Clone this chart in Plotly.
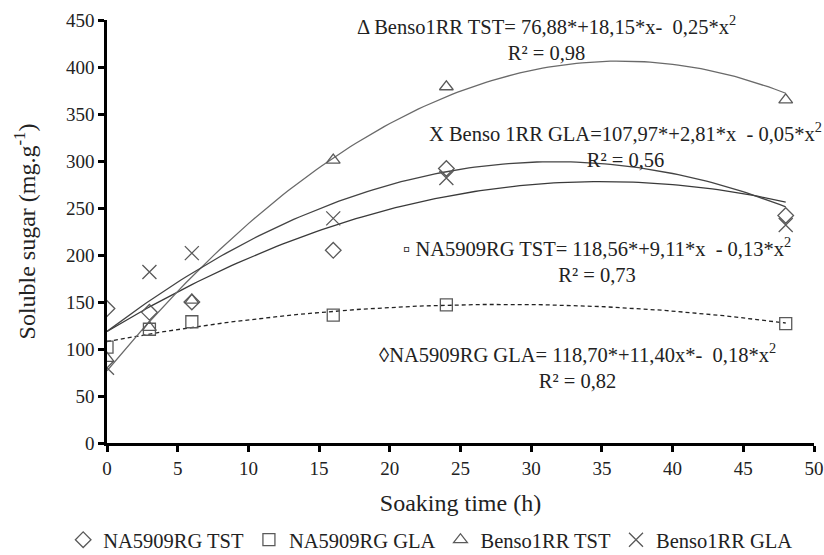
import numpy as np
import plotly.graph_objects as go

# ---- data ----
hours = [0, 3, 6, 16, 24, 48]
na_tst = [143, 139, 150, 205, 292, 242]      # diamonds
na_gla = [102, 121, 129, 136, 147, 127]      # squares
benso_tst = [90, 123, 152, 301, 379, 365]    # triangles
benso_gla = [80, 182, 202, 239, 282, 232]    # crosses

series_names = ["NA5909RG TST", "NA5909RG GLA", "Benso1RR TST", "Benso1RR GLA"]
series_values = [na_tst, na_gla, benso_tst, benso_gla]
series_symbols = ["diamond-open", "square-open", "triangle-up-open", "x-thin-open"]

# regression coefficients (a + b*x + c*x^2) printed on the chart
fit_coefs = [
    (118.56, 9.11, -0.13),   # solid
    (107.97, 2.81, -0.05),   # dashed
    (76.88, 18.15, -0.25),   # solid
    (118.70, 11.40, -0.18),  # solid
]
fit_dash = ["solid", "4px,3px", "solid", "solid"]
fit_color = ["#3a3a3a", "#222222", "#6a6a6a", "#444444"]

eq_texts = [
    "Δ Benso1RR TST= 76,88*+18,15*x-  0,25*x<sup>2</sup><br>R² = 0,98",
    "X Benso 1RR GLA=107,97*+2,81*x  - 0,05*x<sup>2</sup><br>R² = 0,56",
    "▫ NA5909RG TST= 118,56*+9,11*x  - 0,13*x<sup>2</sup><br>R² = 0,73",
    "◊NA5909RG GLA= 118,70*+11,40x*-  0,18*x<sup>2</sup><br>R² = 0,82",
]
eq_pos = [(31.1, 431), (36.65, 317), (34.65, 195), (33.3, 82)]

FONT = "Liberation Serif"
GREY = "#5a5a5a"

fig = go.Figure()

xs = np.linspace(0, 48, 121)
for (a, b, c), dash, col in zip(fit_coefs, fit_dash, fit_color):
    fig.add_trace(go.Scatter(
        x=xs, y=a + b * xs + c * xs ** 2, mode="lines",
        line=dict(color=col, width=1.3, dash=dash),
        showlegend=False, hoverinfo="skip"))

for name, vals, sym in zip(series_names, series_values, series_symbols):
    fig.add_trace(go.Scatter(
        x=hours, y=vals, mode="markers", name=name,
        marker=dict(symbol=sym, size=12 if "x" not in sym else 14,
                    color=GREY, line=dict(color=GREY, width=1.3))))

for txt, (ax, ay) in zip(eq_texts, eq_pos):
    fig.add_annotation(x=ax, y=ay, xref="x", yref="y", text=txt,
                       showarrow=False, align="center",
                       font=dict(family=FONT, size=20.5, color="#222"))

axis_common = dict(showline=True, linecolor="black", linewidth=2.5,
                   ticks="outside", tickcolor="black", tickwidth=2.5, ticklen=6,
                   showgrid=False, zeroline=False, automargin=False,
                   tickfont=dict(family=FONT, size=19, color="#222"))

fig.update_xaxes(range=[0, 50], dtick=5, tick0=0,
                 title=dict(text="Soaking time (h)", standoff=17,
                            font=dict(family=FONT, size=24, color="#222")),
                 **axis_common)
fig.update_yaxes(range=[0, 450], dtick=50, tick0=0,
                 title=dict(text="Soluble sugar (mg.g<sup>-1</sup>)", standoff=24,
                            font=dict(family=FONT, size=24, color="#222")),
                 **axis_common)

fig.update_layout(
    width=824, height=555,
    margin=dict(l=107, r=10, t=20, b=112, autoexpand=False),
    paper_bgcolor="white", plot_bgcolor="white",
    font=dict(family=FONT, size=19, color="#222"),
    legend=dict(orientation="h", x=-0.062, xanchor="left",
                y=-0.229, yanchor="middle",
                font=dict(family=FONT, size=20.5, color="#222"),
                itemclick=False, tracegroupgap=0),
    showlegend=True,
)

fig.write_html("out.html")
